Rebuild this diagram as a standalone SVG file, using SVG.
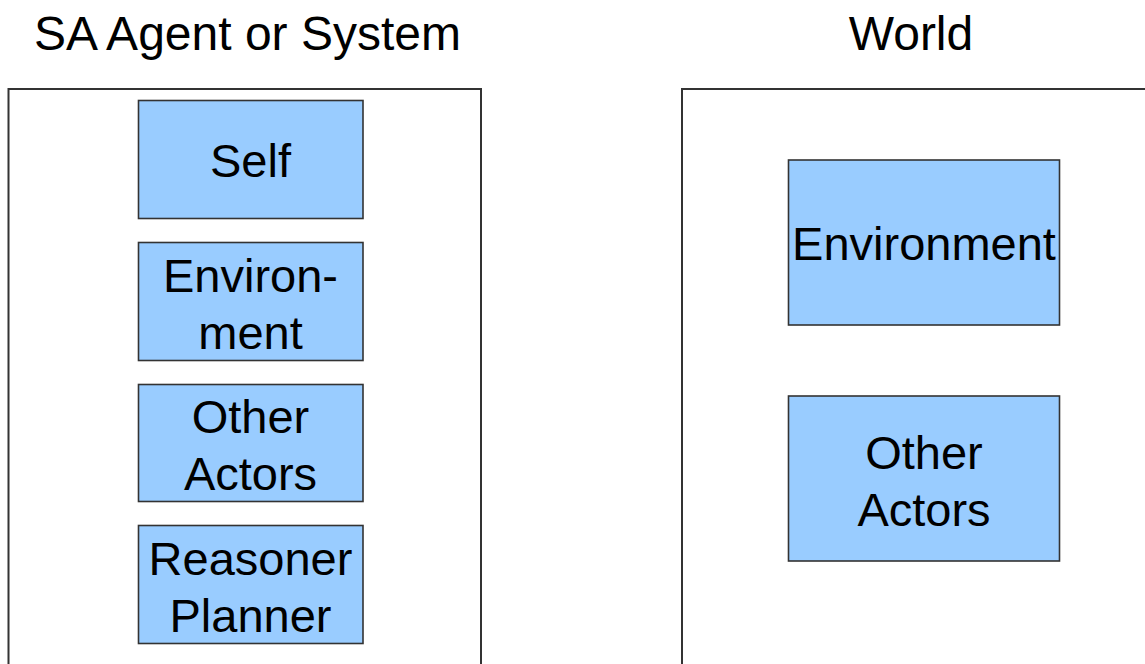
<svg xmlns="http://www.w3.org/2000/svg" width="1145" height="664" viewBox="0 0 1145 664">
<style>
.frame{fill:#fff;stroke:#333;stroke-width:2}
.box{fill:#99CCFF;stroke:#333;stroke-width:1.6}
text{font-family:"Liberation Sans",Arial,sans-serif;font-size:47px;fill:#000;text-anchor:middle}
.title{font-size:48px}
</style>
<rect width="1145" height="664" fill="#fff"/>
<g id="agent">
<rect class="frame" x="8.5" y="89" width="472.5" height="590"/>
<text class="title" x="247.5" y="49.5">SA Agent or System</text>
</g>
<g id="world">
<rect class="frame" x="682" y="89" width="480" height="590"/>
<text class="title" x="911" y="49.5">World</text>
</g>
<g id="self">
<rect class="box" x="138.5" y="100.5" width="224.5" height="118"/>
<text x="250.5" y="176.5">Self</text>
</g>
<g id="environment-left">
<rect class="box" x="138.5" y="242.5" width="224.5" height="118"/>
<text x="250.5" y="291.5">Environ-</text>
<text x="250.5" y="348.5">ment</text>
</g>
<g id="other-actors-left">
<rect class="box" x="138.5" y="384.5" width="224.5" height="117"/>
<text x="250.5" y="433">Other</text>
<text x="250.5" y="490">Actors</text>
</g>
<g id="reasoner-planner">
<rect class="box" x="138.5" y="525.5" width="224.5" height="118"/>
<text x="250.5" y="574.5">Reasoner</text>
<text x="250.5" y="631.5">Planner</text>
</g>
<g id="environment-right">
<rect class="box" x="788.5" y="160" width="271" height="165"/>
<text x="924" y="260">Environment</text>
</g>
<g id="other-actors-right">
<rect class="box" x="788.5" y="396" width="271" height="165"/>
<text x="924" y="469">Other</text>
<text x="924" y="526">Actors</text>
</g>
<g id="connectors"/>
</svg>
